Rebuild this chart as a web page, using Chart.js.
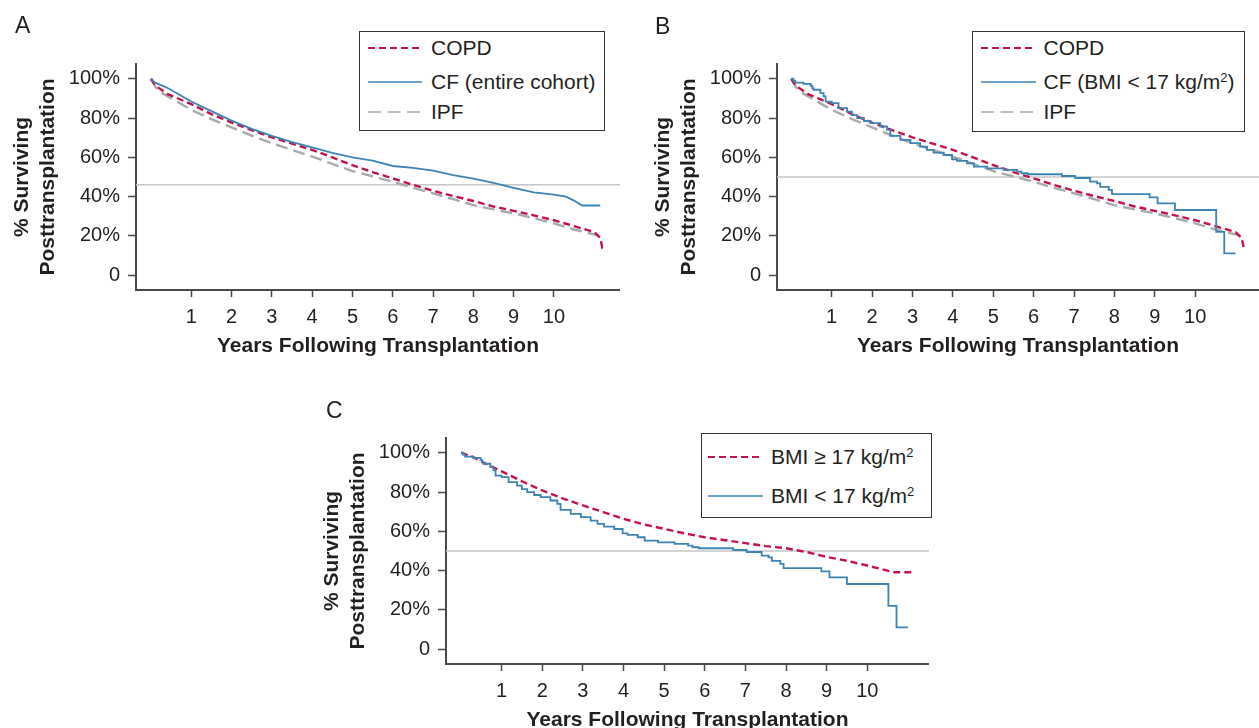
<!DOCTYPE html>
<html>
<head>
<meta charset="utf-8">
<script src="https://cdn.jsdelivr.net/npm/chart.js@4.4.0/dist/chart.umd.min.js"></script>
<style>
html,body{margin:0;padding:0;background:#fff;overflow:hidden;width:1259px;height:728px;}
#wrap{position:relative;width:1259px;height:728px;font-family:'Liberation Sans',Arial,sans-serif;color:#231f20;overflow:hidden;}
canvas{position:absolute;}
.letter{position:absolute;font-size:23px;line-height:23px;}
.legend{position:absolute;border:1.5px solid #333;box-sizing:border-box;background:#fff;}
.row{position:absolute;font-size:21px;line-height:24px;white-space:nowrap;}
.sample{position:absolute;overflow:visible;}
sup{font-size:0.62em;line-height:0;vertical-align:0.55em;}
</style>
</head>
<body>
<div id="wrap">
  <canvas id="cA" width="620" height="370" style="left:0px;top:0px;width:620px;height:370px"></canvas>
  <canvas id="cB" width="618" height="370" style="left:641px;top:0px;width:618px;height:370px"></canvas>
  <canvas id="cC" width="619" height="370" style="left:310px;top:374px;width:619px;height:370px"></canvas>

  <div class="letter" style="left:15px;top:14px">A</div>
  <div class="letter" style="left:655px;top:14.5px">B</div>
  <div class="letter" style="left:326px;top:399px">C</div>

  <!-- Legend A -->
  <div class="legend" style="left:359px;top:31px;width:246px;height:100px"></div>
  <svg class="sample" style="left:368px;top:39.7px" width="54" height="16"><line x1="0" y1="8" x2="54" y2="8" stroke="#c4124a" stroke-width="2" stroke-dasharray="7 4"/></svg>
  <div class="row" style="left:431px;top:35.7px">COPD</div>
  <svg class="sample" style="left:368px;top:73.7px" width="54" height="16"><line x1="0" y1="8" x2="54" y2="8" stroke="#3b84b3" stroke-width="1.6"/></svg>
  <div class="row" style="left:431px;top:69.7px">CF (entire cohort)</div>
  <svg class="sample" style="left:368px;top:103.7px" width="54" height="16"><line x1="0" y1="8" x2="54" y2="8" stroke="#a9a9a9" stroke-width="1.6" stroke-dasharray="13 6.5"/></svg>
  <div class="row" style="left:431px;top:99.7px">IPF</div>

  <!-- Legend B -->
  <div class="legend" style="left:972px;top:31px;width:273px;height:101px"></div>
  <svg class="sample" style="left:981px;top:39.7px" width="55" height="16"><line x1="0" y1="8" x2="55" y2="8" stroke="#c4124a" stroke-width="2" stroke-dasharray="7 4"/></svg>
  <div class="row" style="left:1043.5px;top:35.7px">COPD</div>
  <svg class="sample" style="left:981px;top:73.7px" width="55" height="16"><line x1="0" y1="8" x2="55" y2="8" stroke="#3b84b3" stroke-width="1.6"/></svg>
  <div class="row" style="left:1043.5px;top:69.7px">CF (BMI &lt; 17 kg/m<sup>2</sup>)</div>
  <svg class="sample" style="left:981px;top:103.7px" width="55" height="16"><line x1="0" y1="8" x2="55" y2="8" stroke="#a9a9a9" stroke-width="1.6" stroke-dasharray="13 6.5"/></svg>
  <div class="row" style="left:1043.5px;top:99.7px">IPF</div>

  <!-- Legend C -->
  <div class="legend" style="left:701px;top:432.5px;width:231px;height:85.5px"></div>
  <svg class="sample" style="left:708px;top:448.7px" width="55" height="16"><line x1="0" y1="8" x2="55" y2="8" stroke="#c4124a" stroke-width="2" stroke-dasharray="7 4"/></svg>
  <div class="row" style="left:771px;top:444.7px">BMI ≥ 17 kg/m<sup>2</sup></div>
  <svg class="sample" style="left:708px;top:488px" width="55" height="16"><line x1="0" y1="8" x2="55" y2="8" stroke="#3b84b3" stroke-width="1.6"/></svg>
  <div class="row" style="left:771px;top:484px">BMI &lt; 17 kg/m<sup>2</sup></div>
</div>

<script>
// ---------- DATA ----------
const xTickValues = [1, 2, 3, 4, 5, 6, 7, 8, 9, 10];
const yTickValues = [0, 20, 40, 60, 80, 100];
const yTickLabels = ['0', '20%', '40%', '60%', '80%', '100%'];

const copdYears = [0, 0.08, 0.2, 0.4, 1, 1.5, 2, 2.5, 3, 3.5, 4, 4.5, 5, 5.5, 6, 6.5, 7, 7.5, 8, 8.5, 9, 9.5, 10, 10.5, 11, 11.15, 11.2, 11.25];
const copdSurv  = [100, 97.5, 95.2, 92.3, 87.1, 82, 77.7, 73.8, 70.2, 67, 63.8, 60, 56, 52.5, 49.3, 46, 43, 40.3, 37.8, 35, 32.8, 30.5, 28, 25, 22, 19, 14, 14];

const ipfYears = [0, 0.08, 0.2, 0.4, 1, 1.5, 2, 2.5, 3, 3.5, 4, 4.5, 5, 5.5, 6, 6.5, 7, 7.5, 8, 8.5, 9, 9.5, 10, 10.5, 11.15];
const ipfSurv  = [100, 96.9, 93.5, 91.3, 84.2, 79.5, 75.2, 71, 67.2, 63.8, 60.4, 56.7, 53, 50.3, 47.6, 44.5, 41.7, 38.7, 35.7, 33.5, 31.5, 29, 26.4, 23.3, 20];

const cfAllYears = [0, 0.1, 0.4, 1, 1.5, 2, 2.5, 3, 3.5, 4, 4.5, 5, 5.5, 6, 6.5, 7, 7.5, 8, 8.5, 9, 9.5, 10, 10.3, 10.5, 10.7, 11.15];
const cfAllSurv  = [100, 98, 95.4, 88.4, 83.5, 78.7, 74.5, 70.9, 67.8, 65.1, 62.3, 60, 58.3, 55.6, 54.6, 53.2, 51, 49.2, 47, 44.5, 42.2, 41, 40, 38, 35.5, 35.5];

const cfLowBmiYears = [0, 0.05, 0.1, 0.3, 0.48, 0.52, 0.55, 0.72, 0.8, 0.85, 1.0, 1.17, 1.38, 1.5, 1.63, 1.8, 1.96, 2.2, 2.37, 2.45, 2.7, 2.95, 3.19, 3.36, 3.52, 3.77, 3.98, 4.1, 4.35, 4.52, 4.85, 5.26, 5.59, 5.7, 5.85, 6.7, 7.03, 7.4, 7.57, 7.65, 7.86, 7.94, 8.87, 9.07, 9.5, 10.52, 10.72, 11.0];
const cfLowBmiSurv  = [100, 99, 98, 97.4, 96.4, 95.2, 94.4, 92.7, 91, 88.4, 87.6, 85, 83.3, 81.5, 80, 78.5, 77.4, 75.7, 74, 70.9, 68.9, 67.2, 65.5, 63.8, 62.4, 61.2, 59, 58.2, 57, 55.3, 54.4, 53.6, 52.7, 51.9, 51.4, 50.5, 49.5, 47.6, 46.8, 45, 43.4, 41.3, 39.6, 36.6, 33.2, 22.1, 11.1, 11.1];

const cfHighBmiYears = [0, 0.3, 0.5, 1, 1.5, 2, 2.5, 3, 3.5, 4, 4.5, 5, 5.5, 6, 6.5, 7, 7.5, 8, 8.5, 9, 9.5, 10, 10.4, 10.66, 11.1];
const cfHighBmiSurv  = [100, 97.8, 95.5, 90.5, 85.5, 80.8, 76.8, 73.2, 69.8, 66.4, 63.5, 61.3, 59, 57, 55.5, 54, 52.5, 51.4, 49.5, 47, 45, 42.6, 40.5, 39.2, 39.2];

const referenceLevels = [46, 50, 50];   // horizontal reference line per panel A, B, C

// ---------- STYLE ----------
const FONT = "'Liberation Sans', Arial, sans-serif";
const TEXT = '#231f20';
const AXIS = '#4a4a4a';
const RED = '#c4124a';
const BLUE = '#3b84b3';
const GREY = '#a9a9a9';
const REF = '#c6c6c6';

Chart.defaults.font.family = FONT;
Chart.defaults.color = TEXT;

function pts(xs, ys) { return xs.map((x, i) => ({ x: x, y: ys[i] })); }

function copdDs(xs, ys) {
  return { data: pts(xs, ys), borderColor: RED, borderWidth: 2.4, borderDash: [7, 4], pointRadius: 0, tension: 0, fill: false, order: 1 };
}
function ipfDs(xs, ys) {
  return { data: pts(xs, ys), borderColor: GREY, borderWidth: 2.4, borderDash: [12, 6], pointRadius: 0, tension: 0, fill: false, order: 2 };
}
function blueDs(xs, ys, stepped) {
  return { data: pts(xs, ys), borderColor: BLUE, borderWidth: 1.8, pointRadius: 0, tension: 0, stepped: stepped ? 'before' : false, fill: false, order: 0 };
}
function refDs(level, xMin, xMax) {
  return { data: [{ x: xMin, y: level }, { x: xMax, y: level }], borderColor: REF, borderWidth: 1.5, pointRadius: 0, fill: false, order: 10 };
}

function makePanel(id, xMin, xMax, datasets) {
  return new Chart(document.getElementById(id), {
    type: 'line',
    data: { datasets: datasets },
    options: {
      responsive: false,
      animation: false,
      events: [],
      layout: { padding: { top: 64, left: 0, right: 0, bottom: 0 }, autoPadding: false },
      plugins: { legend: { display: false }, tooltip: { enabled: false } },
      scales: {
        x: {
          type: 'linear', min: xMin, max: xMax,
          afterBuildTicks: s => { s.ticks = xTickValues.map(v => ({ value: v })); },
          afterFit: s => { s.height = 80; },
          grid: { display: true, drawOnChartArea: false, drawTicks: true, tickLength: 7, tickColor: AXIS, tickWidth: 1.5, color: AXIS },
          border: { display: true, color: AXIS, width: 2 },
          ticks: { font: { size: 20 }, color: TEXT, padding: 8, maxRotation: 0, minRotation: 0, autoSkip: false, callback: v => String(v) },
          title: { display: true, text: 'Years Following Transplantation', color: TEXT, font: { size: 21, weight: 'bold', lineHeight: 1.2 }, padding: { top: 0, bottom: 11 } }
        },
        y: {
          type: 'linear', min: -7.5, max: 107.5,
          afterBuildTicks: s => { s.ticks = yTickValues.map(v => ({ value: v })); },
          afterFit: s => { s.width = 136; },
          grid: { display: true, drawOnChartArea: false, drawTicks: true, tickLength: 8, tickColor: AXIS, tickWidth: 1.5, color: AXIS },
          border: { display: true, color: AXIS, width: 2 },
          ticks: { font: { size: 20 }, color: TEXT, padding: 8, autoSkip: false, callback: v => yTickLabels[yTickValues.indexOf(v)] },
          title: { display: true, text: ['% Surviving', 'Posttransplantation'], color: TEXT, font: { size: 21, weight: 'bold', lineHeight: 1.2 }, padding: { top: 10, bottom: 0 } }
        }
      }
    }
  });
}

// Panel A
makePanel('cA', -0.372, 11.64, [
  blueDs(cfAllYears, cfAllSurv, false),
  copdDs(copdYears, copdSurv),
  ipfDs(ipfYears, ipfSurv),
  refDs(referenceLevels[0], -0.372, 11.64)
]);
// Panel B
makePanel('cB', -0.354, 11.58, [
  blueDs(cfLowBmiYears, cfLowBmiSurv, true),
  copdDs(copdYears, copdSurv),
  ipfDs(ipfYears, ipfSurv),
  refDs(referenceLevels[1], -0.354, 11.58)
]);
// Panel C
makePanel('cC', -0.37, 11.52, [
  blueDs(cfLowBmiYears, cfLowBmiSurv, true),
  copdDs(cfHighBmiYears, cfHighBmiSurv),
  refDs(referenceLevels[2], -0.37, 11.52)
]);
</script>
</body>
</html>
